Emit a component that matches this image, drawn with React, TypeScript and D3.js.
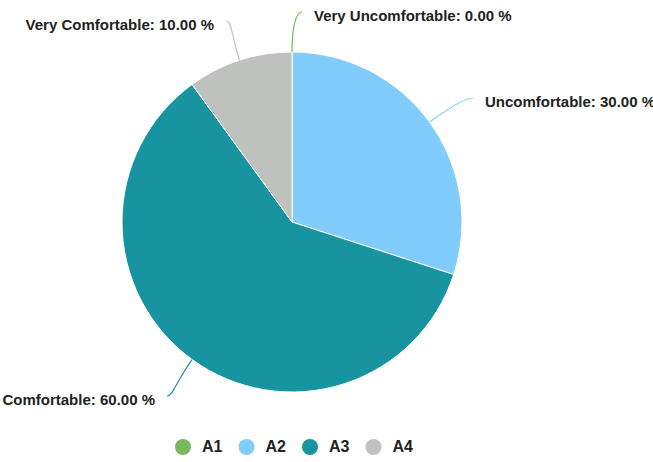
import React from "react";
import * as d3 from "d3";

const categories = ["Very Uncomfortable", "Uncomfortable", "Comfortable", "Very Comfortable"];
const seriesNames = ["A1", "A2", "A3", "A4"];
const values = [0, 30, 60, 10];
const colors = ["#7ab85f", "#80ccfd", "#1894a0", "#bec1be"];

const W = 653, H = 462;
const cx = 292, cy = 222, R = 170;

// label anchors (text x, y, anchor)
const labelPos: [number, number, "start" | "end"][] = [
  [314, 17, "start"],
  [485, 103, "start"],
  [155, 401, "end"],
  [214, 26, "end"],
];

export default function App() {
  const total = d3.sum(values);
  const pie = d3.pie<number>().sort(null).value((d) => d)(values);
  const arc = d3.arc<d3.PieArcDatum<number>>().innerRadius(0).outerRadius(R);
  return (
    <svg width={W} height={H} style={{ position: "absolute", left: 0, top: 0, fontFamily: "'Liberation Sans', Arial, sans-serif" }}>
      <g transform={`translate(${cx},${cy})`}>
        {pie.map((p, i) => (
          <path key={i} d={arc(p) || ""} fill={colors[i]} stroke="#ffffff" strokeWidth={p.value > 0 ? 1 : 0} />
        ))}
      </g>
      {pie.map((p, i) => {
        const mid = (p.startAngle + p.endAngle) / 2;
        const sx = Math.sin(mid), sy = -Math.cos(mid);
        const x0 = cx + R * sx;
        const y0 = cy + R * sy;
        const [lx, ly, anchor] = labelPos[i];
        const dir = anchor === "start" ? 1 : -1;
        const ex = lx - dir * 12;
        const ey = ly - 5;
        const dist = Math.hypot(ex - x0, ey - y0);
        const c1x = x0 + sx * dist * 0.6, c1y = y0 + sy * dist * 0.6;
        const c2x = ex - dir * 6, c2y = ey;
        const d = `M${x0},${y0} C${c1x},${c1y} ${c2x},${c2y} ${ex},${ey}`;
        const pct = (p.value / total) * 100;
        return (
          <g key={"l" + i}>
            <path d={d} fill="none" stroke={colors[i]} strokeWidth={1.2} />
            <text x={lx} y={ly} textAnchor={anchor} dominantBaseline="middle" fontSize={15} fontWeight="bold" fill="#222">
              {`${categories[i]}: ${pct.toFixed(2)} %`}
            </text>
          </g>
        );
      })}
      {seriesNames.map((s, i) => (
        <g key={"lg" + i} transform={`translate(${183 + i * 63.5},447)`}>
          <circle r={8} fill={colors[i]} />
          <text x={19} y={1} dominantBaseline="middle" fontSize={16} fontWeight="bold" fill="#222">{s}</text>
        </g>
      ))}
    </svg>
  );
}
